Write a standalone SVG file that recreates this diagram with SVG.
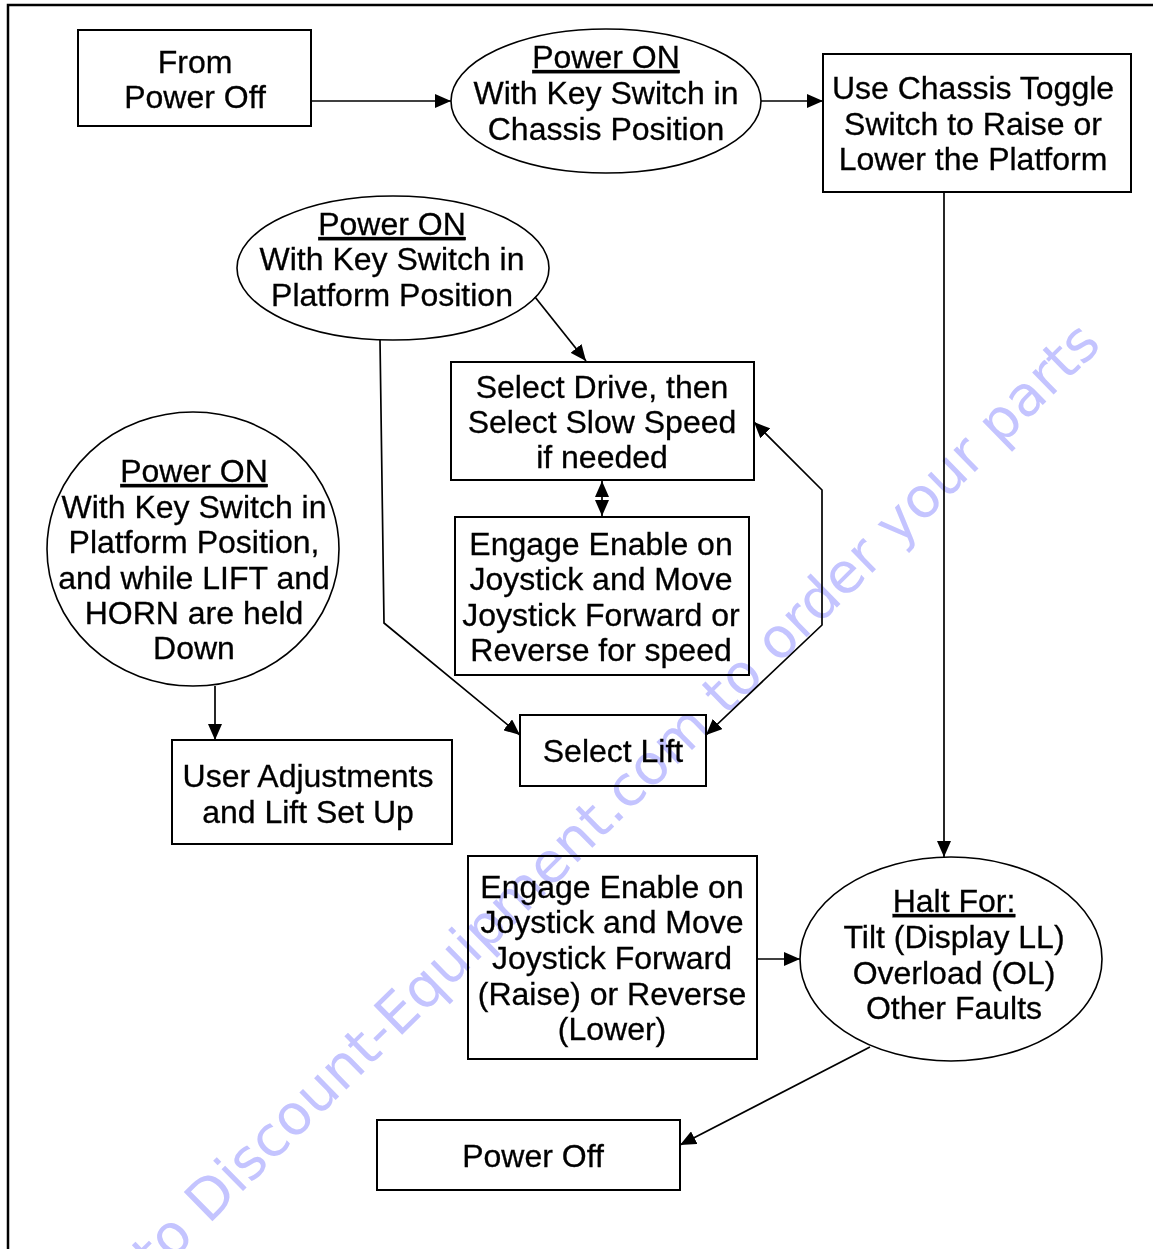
<svg xmlns="http://www.w3.org/2000/svg" width="1153" height="1249" viewBox="0 0 1153 1249">
<style>
.box{fill:#fff;stroke:#000;stroke-width:2}
.ell{fill:#fff;stroke:#000;stroke-width:1.6}
.t{font-family:"Liberation Sans",Arial,sans-serif;font-size:32px;fill:#000;stroke:#000;stroke-width:0.3;text-anchor:middle}
.u{text-decoration:underline}
.c{fill:none;stroke:#000;stroke-width:1.7}
.wm{font-family:"DejaVu Sans",sans-serif;font-size:56px;fill:#c4c4ff;mix-blend-mode:multiply}
</style>
<defs>
<marker id="ah" viewBox="0 0 16 14" refX="16" refY="7" markerWidth="16" markerHeight="14" markerUnits="userSpaceOnUse" orient="auto-start-reverse">
<path d="M0,0 L16,7 L0,14 Z" fill="#000"/>
</marker>
</defs>
<rect width="1153" height="1249" fill="#fff"/>
<path d="M8,1249 V5 H1153" fill="none" stroke="#000" stroke-width="2.5"/>

<g id="n1">
<rect class="box" x="78" y="30" width="233" height="96"/>
<text class="t" x="195" y="73">From</text>
<text class="t" x="195" y="108">Power Off</text>
</g>
<g id="n2">
<ellipse class="ell" cx="606" cy="101" rx="155" ry="72"/>
<text class="t u" x="606" y="68">Power ON</text>
<text class="t" x="606" y="104">With Key Switch in</text>
<text class="t" x="606" y="140">Chassis Position</text>
</g>
<g id="n3">
<rect class="box" x="823" y="54" width="308" height="138"/>
<text class="t" x="973" y="99">Use Chassis Toggle</text>
<text class="t" x="973" y="135">Switch to Raise or</text>
<text class="t" x="973" y="170">Lower the Platform</text>
</g>
<g id="n4">
<ellipse class="ell" cx="393" cy="268" rx="156" ry="72"/>
<text class="t u" x="392" y="235">Power ON</text>
<text class="t" x="392" y="270">With Key Switch in</text>
<text class="t" x="392" y="306">Platform Position</text>
</g>
<g id="n5">
<rect class="box" x="451" y="362" width="303" height="118"/>
<text class="t" x="602" y="398">Select Drive, then</text>
<text class="t" x="602" y="433">Select Slow Speed</text>
<text class="t" x="602" y="468">if needed</text>
</g>
<g id="n6">
<rect class="box" x="455" y="517" width="294" height="158"/>
<text class="t" x="601" y="555">Engage Enable on</text>
<text class="t" x="601" y="590">Joystick and Move</text>
<text class="t" x="601" y="626">Joystick Forward or</text>
<text class="t" x="601" y="661">Reverse for speed</text>
</g>
<g id="n7">
<rect class="box" x="520" y="715" width="186" height="71"/>
<text class="t" x="613" y="762">Select Lift</text>
</g>
<g id="n8">
<ellipse class="ell" cx="193" cy="549" rx="146" ry="137"/>
<text class="t u" x="194" y="482">Power ON</text>
<text class="t" x="194" y="518">With Key Switch in</text>
<text class="t" x="194" y="553">Platform Position,</text>
<text class="t" x="194" y="589">and while LIFT and</text>
<text class="t" x="194" y="624">HORN are held</text>
<text class="t" x="194" y="659">Down</text>
</g>
<g id="n9">
<rect class="box" x="172" y="740" width="280" height="104"/>
<text class="t" x="308" y="787">User Adjustments</text>
<text class="t" x="308" y="823">and Lift Set Up</text>
</g>
<g id="n10">
<rect class="box" x="468" y="856" width="289" height="203"/>
<text class="t" x="612" y="898">Engage Enable on</text>
<text class="t" x="612" y="933">Joystick and Move</text>
<text class="t" x="612" y="969">Joystick Forward</text>
<text class="t" x="612" y="1005">(Raise) or Reverse</text>
<text class="t" x="612" y="1040">(Lower)</text>
</g>
<g id="n11">
<ellipse class="ell" cx="951" cy="959" rx="151" ry="102"/>
<text class="t u" x="954" y="912">Halt For:</text>
<text class="t" x="954" y="948">Tilt (Display LL)</text>
<text class="t" x="954" y="984">Overload (OL)</text>
<text class="t" x="954" y="1019">Other Faults</text>
</g>
<g id="n12">
<rect class="box" x="377" y="1120" width="303" height="70"/>
<text class="t" x="533" y="1167">Power Off</text>
</g>

<g id="connectors">
<path class="c" d="M311,101 H451" marker-end="url(#ah)"/>
<path class="c" d="M761,101 H823" marker-end="url(#ah)"/>
<path class="c" d="M944,192 V857" marker-end="url(#ah)"/>
<path class="c" d="M535,297 L586,361" marker-end="url(#ah)"/>
<path class="c" d="M380,340 L384,623 L520,735" marker-end="url(#ah)"/>
<path class="c" d="M602,481 V516" marker-start="url(#ah)" marker-end="url(#ah)"/>
<path class="c" d="M754,422 L822,490 L822,625 L706,735" marker-start="url(#ah)" marker-end="url(#ah)"/>
<path class="c" d="M215,686 V740" marker-end="url(#ah)"/>
<path class="c" d="M757,959 H800" marker-end="url(#ah)"/>
<path class="c" d="M870,1047 L680,1145" marker-end="url(#ah)"/>
</g>

<text class="wm" text-anchor="end" transform="translate(1103,346) rotate(-44.5)">Go to Discount-Equipment.com to order your parts</text>
</svg>
